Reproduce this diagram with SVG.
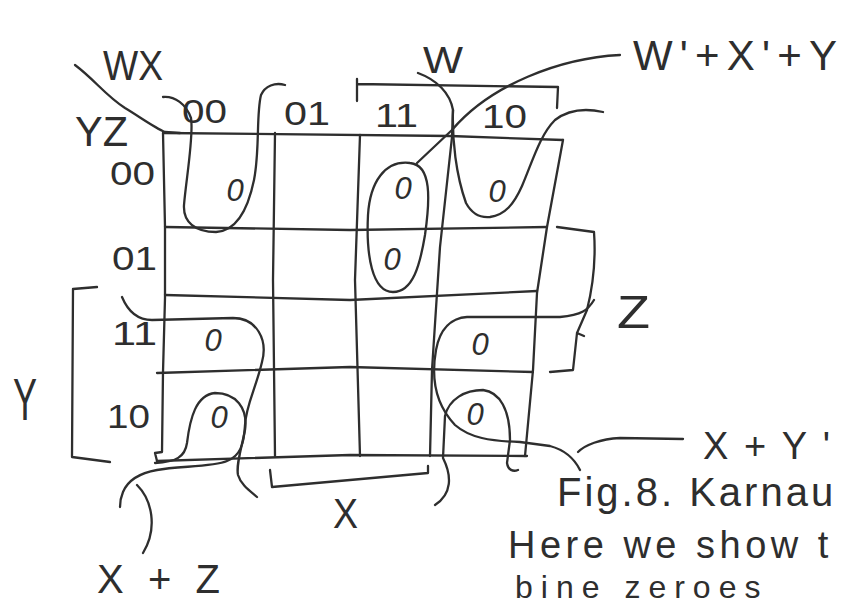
<svg xmlns="http://www.w3.org/2000/svg" width="841" height="605" viewBox="0 0 841 605">
<style>
.ln{fill:none;stroke:#2e2e2e;stroke-width:2.3;stroke-linecap:round;stroke-linejoin:round}
.t{font-family:"Liberation Sans","DejaVu Sans",sans-serif;fill:#2e2e2e}
.d{font-family:"Liberation Sans","DejaVu Sans",sans-serif;fill:#2e2e2e;font-size:33px}
.z{font-family:"Liberation Sans","DejaVu Sans",sans-serif;font-style:italic;fill:#2e2e2e;font-size:31px;text-anchor:middle}
</style>
<rect width="841" height="605" fill="#ffffff"/>
<g id="grid" class="ln">
<path d="M163,133 L450,136 L563,140"/>
<path d="M163,133 L165,227 L165,298 L163,372 L162,452 L155,453 L157,461"/>
<path d="M563,140 L547,227 L537,293 L533,370 L525,456"/>
<path d="M165,227 L350,230 L547,227"/>
<path d="M165,295 L350,300 L537,291"/>
<path d="M157,373 L350,367 L533,372"/>
<path d="M157,461 L350,455 L527,456"/>
<path d="M275,133 L273,280 L275,456"/>
<path d="M360,135 L355,280 L360,456"/>
<path d="M418,73 C437,80 450,93 453,110 L452,137 L440,247 L432,370 L430,456"/>
</g>
<g id="brackets" class="ln">
<path d="M75,65 C95,80 105,95 125,108 C140,117 155,128 165,132 L180,133"/>
<path d="M357,79 L357,101 M357,84 L558,87 L557,108"/>
<path d="M557,227 L594,232 C596,260 592,290 587,310 L577,333 L584,336 M577,333 L573,370 L550,372"/>
<path d="M97,287 L73,289 L72,457 L110,462"/>
<path d="M270,470 L272,487 L428,473 L428,466"/>
</g>
<g id="loops" class="ln">
<path d="M163,97 C175,96 186,104 191,118 C194,135 186,180 184,205 C183,222 195,232 216,232 C235,231 247,214 254,180 C260,150 256,115 261,95 C265,86 275,82 285,85"/>
<path d="M410,163 C385,160 370,182 368,215 C366,255 372,292 393,292 C413,292 420,265 425,235 C430,200 432,165 410,163 Z"/>
<path d="M453,110 C452,140 456,175 466,203 C472,214 480,218 490,217 C505,215 514,204 522,186 C533,160 540,135 555,120 C568,110 585,108 603,112"/>
<path d="M122,297 C127,309 135,320 152,320 L233,318 C257,318 268,340 262,362 C256,388 246,405 245,425 C244,445 240,456 227,461 C213,467 178,466 157,470 C140,473 128,480 123,492 C120,499 120,503 120,507"/>
<path d="M155,463 C176,462 185,457 187,443 C190,418 196,395 215,393 C236,393 248,408 245,430 C241,450 236,465 238,475 C241,485 250,491 257,497"/>
<path d="M594,300 C588,310 582,315 560,317 L467,317 C452,318 440,328 436,350 C431,378 436,405 455,425 C470,438 490,441 520,442 L550,446 C565,450 575,460 580,470"/>
<path d="M435,505 C452,494 452,476 443,458 L445,416 C449,399 465,390 483,390 C500,392 510,410 510,440 L507,463 C508,470 513,472 518,470"/>
</g>
<g id="connectors" class="ln">
<path d="M620,55 C560,58 490,85 452,130 L417,163"/>
<path d="M578,452 C585,445 600,439 620,438 L683,439"/>
<path d="M137,485 C152,500 158,528 143,553"/>
</g>
<g id="axis-labels">
<text class="t" x="103" y="80" font-size="42" textLength="60" lengthAdjust="spacingAndGlyphs">WX</text>
<text class="t" x="75" y="146" font-size="42" textLength="53" lengthAdjust="spacingAndGlyphs">YZ</text>
<text class="t" x="423" y="73" font-size="36" textLength="40" lengthAdjust="spacingAndGlyphs">W</text>
<text class="t" x="13" y="420" font-size="60" textLength="24" lengthAdjust="spacingAndGlyphs">Y</text>
<text class="t" x="617" y="328" font-size="46" textLength="33" lengthAdjust="spacingAndGlyphs">Z</text>
<text class="t" x="333" y="528" font-size="42" textLength="25" lengthAdjust="spacingAndGlyphs">X</text>
</g>
<g id="col-labels">
<text class="d" x="182" y="123" textLength="45" lengthAdjust="spacingAndGlyphs">00</text>
<text class="d" x="284" y="125" textLength="46" lengthAdjust="spacingAndGlyphs">01</text>
<text class="d" x="375" y="127" textLength="43" lengthAdjust="spacingAndGlyphs">11</text>
<text class="d" x="482" y="128" textLength="45" lengthAdjust="spacingAndGlyphs">10</text>
</g>
<g id="row-labels">
<text class="d" x="110" y="185" font-size="31" textLength="45" lengthAdjust="spacingAndGlyphs">00</text>
<text class="d" x="112" y="270" textLength="45" lengthAdjust="spacingAndGlyphs">01</text>
<text class="d" x="112" y="345" textLength="45" lengthAdjust="spacingAndGlyphs">11</text>
<text class="d" x="107" y="428" textLength="43" lengthAdjust="spacingAndGlyphs">10</text>
</g>
<g id="cells">
<text class="z" x="235" y="201">0</text>
<text class="z" x="403" y="199">0</text>
<text class="z" x="392" y="270" font-size="25">0</text>
<text class="z" x="497" y="202">0</text>
<text class="z" x="213" y="351">0</text>
<text class="z" x="219" y="428">0</text>
<text class="z" x="480" y="355">0</text>
<text class="z" x="475" y="425">0</text>
</g>
<g id="expressions">
<text class="t" x="633" y="70" font-size="42" textLength="204" lengthAdjust="spacing">W'+X'+Y</text>
<text class="t" x="703" y="459" font-size="38" textLength="127" lengthAdjust="spacing">X+Y'</text>
<text class="t" x="97" y="593" font-size="40" textLength="123" lengthAdjust="spacing">X+Z</text>
</g>
<g id="caption">
<text class="t" x="557" y="506" font-size="40" letter-spacing="3">Fig.8. Karnau</text>
<text class="t" x="508" y="558" font-size="38" letter-spacing="4.5">Here we show t</text>
<text class="t" x="515" y="598" font-size="32" letter-spacing="8">bine zeroes</text>
</g>
</svg>
